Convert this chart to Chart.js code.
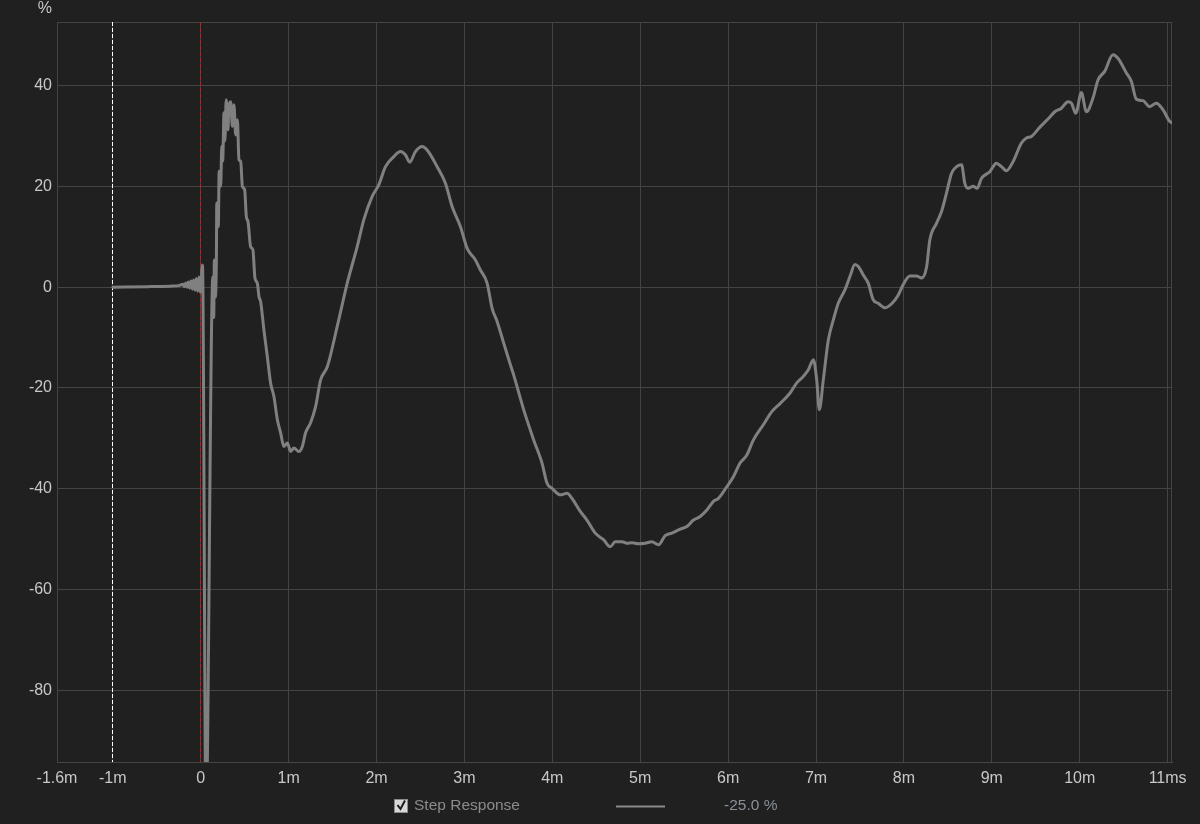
<!DOCTYPE html>
<html>
<head>
<meta charset="utf-8">
<script src="https://cdn.jsdelivr.net/npm/chart.js@4.4.0/dist/chart.umd.min.js"></script>
<style>
html,body{margin:0;padding:0;background:#202020;}
#wrap{position:relative;width:1200px;height:824px;}
</style>
</head>
<body>
<div id="wrap"><canvas id="c" width="1200" height="824"></canvas></div>
<script>
// time in ms
const timeMs = [
-1.0,-0.6,-0.35,-0.25,-0.2,-0.185,-0.17,-0.155,-0.14,-0.125,-0.11,-0.095,-0.08,-0.065,-0.05,-0.035,-0.02,-0.005,0.02,0.06,
0.125,0.138,0.148,0.155,0.165,0.178,0.183,0.2,0.21,0.227,0.24,0.25,0.265,0.275,0.29,0.31,0.32,0.34,0.36,0.378,0.398,0.417,0.435,0.455,0.474,0.5,0.519,0.538,0.568,0.594,0.617,0.644,0.663,0.682,
0.719,0.758,0.795,0.833,0.872,0.909,0.947,0.985,1.023,1.06,1.117,1.156,1.193,1.25,1.307,1.364,1.44,1.553,1.667,1.781,1.856,1.951,2.026,2.102,2.197,2.273,2.33,2.378,2.443,2.519,2.576,2.69,2.784,2.86,2.955,3.031,3.125,3.182,3.258,3.315,3.372,3.447,3.523,3.56,3.674,3.788,3.883,3.94,3.997,4.091,4.167,4.224,4.318,4.394,4.489,4.583,4.659,4.716,4.792,4.849,4.906,4.981,5.057,5.133,5.208,5.284,5.36,5.455,5.531,5.606,5.682,5.758,5.833,5.89,5.985,6.06,6.136,6.213,6.288,6.401,6.497,6.591,6.705,6.781,6.856,6.913,6.97,7.008,7.038,7.083,7.14,7.197,7.253,7.33,7.386,7.443,7.481,7.538,7.594,7.651,7.708,7.784,7.86,7.935,7.992,8.068,8.144,8.201,8.258,8.295,8.372,8.428,8.485,8.542,8.599,8.656,8.693,8.731,8.788,8.833,8.883,8.977,9.053,9.11,9.167,9.242,9.337,9.394,9.451,9.545,9.659,9.716,9.792,9.867,9.906,9.955,10.019,10.076,10.151,10.208,10.284,10.378,10.435,10.531,10.588,10.644,10.72,10.795,10.872,10.947,11.023,11.05
];
// step response in %
const stepPct = [
0,0.1,0.2,0.3,0.6,0.1,0.8,0.0,1.0,-0.2,1.2,-0.4,1.4,-0.6,1.7,-0.8,2.0,-1.0,4.4,-105,
-6,2,-6,5.4,-2,5,16.7,12,23,20,28,25,34.6,29,37.2,31.2,35.8,36.8,31.9,36.2,30.2,33.2,25.3,24.9,20,19.3,14,13,8,7.4,1.8,0.8,-1.9,-2.9,
-8.5,-13.8,-19,-21.7,-26.3,-28.9,-31.6,-30.9,-32.6,-31.9,-32.6,-31.6,-28.9,-26.9,-23.7,-18.4,-15.8,-7.8,0.8,8.1,13.4,18.0,20.3,23.9,25.9,26.9,26.2,24.8,26.9,27.9,27.2,23.9,20.6,16.0,12.0,7.7,5.4,3.4,0.8,-4.2,-6.8,-11.1,-15.4,-17.4,-24.3,-30.3,-34.9,-38.9,-39.9,-41.2,-40.9,-41.9,-44.5,-46.2,-48.8,-50.1,-51.5,-50.5,-50.5,-50.8,-50.7,-50.9,-50.8,-50.5,-51.1,-49.3,-48.8,-48.0,-47.5,-46.2,-45.5,-44.2,-42.5,-41.9,-39.6,-37.6,-34.9,-33.3,-30.3,-27.3,-24.7,-23.1,-21,-19,-17.7,-16.4,-14.4,-18.4,-24.3,-18.4,-10.5,-6.5,-3.2,-0.5,2.1,4.5,4.1,2.4,0.8,-2.5,-3.2,-4.1,-3.3,-1.6,0.5,2.2,2.2,1.8,4.0,9.4,12.7,15.0,18.7,22.6,23.9,24.3,20.6,19.6,20.0,19.6,21.6,22.9,24.6,23.9,23.1,24.9,28.6,29.6,29.9,31.7,33.7,34.8,35.5,36.8,36.5,34.5,38.6,34.8,37.5,41.1,42.8,46.1,45.4,42.5,40.8,37.3,37.0,35.8,36.5,35.2,32.9,32.6
];
const xTicks = [-1.635,-1,0,1,2,3,4,5,6,7,8,9,10,11];
const xTickLabels = ['-1.6m','-1m','0','1m','2m','3m','4m','5m','6m','7m','8m','9m','10m','11ms'];
const yTicks = [-80,-60,-40,-20,0,20,40];
const xRange = [-1.635, 11.05];
const yRange = [-94.2, 52.6];
const seriesName = 'Step Response';
const legendValue = '-25.0 %';
const yUnit = '%';
const cursorMarkers = [{x:-1, color:'#ffffff'}, {x:0, color:'#d01818'}];

const points = timeMs.map((t,i)=>({x:t, y:stepPct[i]}));
const FONT = '"Liberation Sans", Arial, sans-serif';

const deco = {
  id:'deco',
  beforeDraw(chart){
    const ctx = chart.ctx;
    ctx.save();
    ctx.fillStyle = '#202020';
    ctx.fillRect(0,0,chart.width,chart.height);
    ctx.restore();
  },
  beforeDatasetsDraw(chart){
    const ctx = chart.ctx, a = chart.chartArea, xs = chart.scales.x;
    ctx.save();
    ctx.strokeStyle = '#444444';
    ctx.lineWidth = 1;
    ctx.strokeRect(Math.round(a.left)+0.5, Math.round(a.top)+0.5, Math.round(a.right-a.left)-1, Math.round(a.bottom-a.top));
    cursorMarkers.forEach(m=>{
      const px = Math.round(xs.getPixelForValue(m.x)) - 0.5;
      ctx.strokeStyle = m.color;
      ctx.setLineDash([4,2]);
      ctx.beginPath();
      ctx.moveTo(px, a.top);
      ctx.lineTo(px, a.bottom);
      ctx.stroke();
    });
    ctx.restore();
  },
  afterDraw(chart){
    const ctx = chart.ctx;
    ctx.save();
    ctx.font = '16px ' + FONT;
    ctx.fillStyle = '#c8c8c8';
    ctx.textAlign = 'right';
    ctx.textBaseline = 'middle';
    ctx.fillText(yUnit, 52, 9);
    // legend
    const cy = 806;
    ctx.fillStyle = '#d8d8d8';
    ctx.fillRect(395, 800, 12, 12);
    ctx.strokeStyle = '#8a8a8a';
    ctx.lineWidth = 1;
    ctx.strokeRect(394.5, 799.5, 13, 13);
    ctx.strokeStyle = '#1a1a1a';
    ctx.lineWidth = 2;
    ctx.beginPath();
    ctx.moveTo(397.5, 805);
    ctx.lineTo(400.5, 809);
    ctx.lineTo(405, 800.5);
    ctx.stroke();
    ctx.font = '15.5px ' + FONT;
    ctx.textAlign = 'left';
    ctx.fillStyle = '#8c8c8c';
    ctx.fillText(seriesName, 414, cy);
    ctx.strokeStyle = '#8a8a8a';
    ctx.lineWidth = 2;
    ctx.beginPath();
    ctx.moveTo(616, cy + 0.5);
    ctx.lineTo(665, cy + 0.5);
    ctx.stroke();
    ctx.fillStyle = '#8a9099';
    ctx.fillText(legendValue, 724, cy);
    ctx.restore();
  }
};

new Chart(document.getElementById('c'), {
  type:'line',
  data:{datasets:[{
    label: seriesName,
    data: points,
    borderColor:'#808080',
    borderWidth:3,
    pointRadius:0,
    cubicInterpolationMode:'monotone',
    borderJoinStyle:'round',
    borderCapStyle:'round',
    fill:false
  }]},
  options:{
    responsive:false,
    animation:false,
    devicePixelRatio:1,
    layout:{padding:{left:0, top:22, right:28, bottom:32}},
    plugins:{legend:{display:false}, tooltip:{enabled:false}},
    scales:{
      x:{
        type:'linear',
        min:xRange[0], max:xRange[1],
        afterBuildTicks(s){ s.ticks = xTicks.map(v=>({value:v})); },
        afterFit(s){ s.height = 30; },
        ticks:{
          autoSkip:false, maxRotation:0,
          color:'#c8c8c8', padding:7,
          font:{family:FONT, size:16},
          callback(v){ const i = xTicks.indexOf(v); return i>=0 ? xTickLabels[i] : ''; }
        },
        grid:{color:'#444444', drawTicks:false, lineWidth:1},
        border:{color:'#444444'}
      },
      y:{
        type:'linear',
        min:yRange[0], max:yRange[1],
        afterBuildTicks(s){ s.ticks = yTicks.map(v=>({value:v})); },
        afterFit(s){ s.width = 57; },
        ticks:{
          color:'#c8c8c8', padding:5,
          font:{family:FONT, size:16},
          callback(v){ return String(v); }
        },
        grid:{color:'#444444', drawTicks:false, lineWidth:1},
        border:{color:'#444444'}
      }
    }
  },
  plugins:[deco]
});
</script>
</body>
</html>
